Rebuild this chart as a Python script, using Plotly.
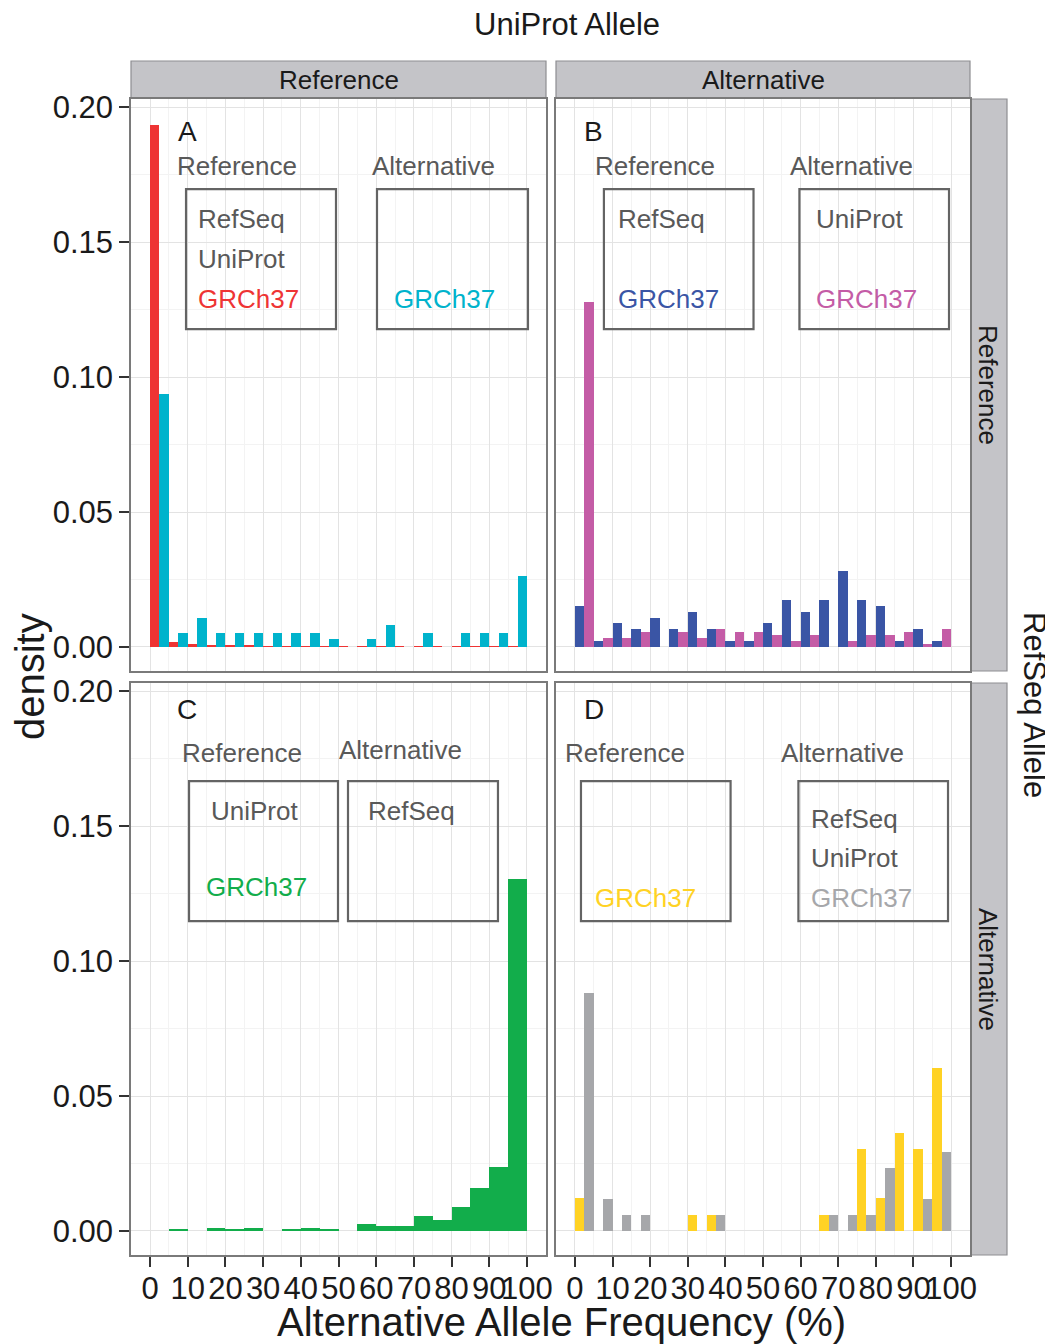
import plotly.graph_objects as go

W, H = 1053, 1344
OFF = 8  # browser default body margin
FW, FH = W - OFF, H - OFF
FONT = "Liberation Sans, Arial, Helvetica, sans-serif"

# ---------------- data ----------------
bin_left = list(range(0, 100, 5))  # histogram bins of width 5 (%)

# Panel A (UniProt Reference / RefSeq Reference)
a_red = [0.1933, 0.0019, 0.0011, 0.0007, 0.0007, 0.0007, 0.0003, 0.0003, 0.0003, 0.0003,
         0.0003, 0.0003, 0.0003, 0.0003, 0.0003, 0.0003, 0.0003, 0.0003, 0.0003, 0.0003]
a_teal = [0.0937, 0.0052, 0.0107, 0.0052, 0.0052, 0.0052, 0.0052, 0.0052, 0.0052, 0.0030,
          0.0, 0.0030, 0.0082, 0.0, 0.0052, 0.0, 0.0052, 0.0052, 0.0052, 0.0263]
# Panel B (UniProt Alternative / RefSeq Reference)
b_blue = [0.0151, 0.0021, 0.0088, 0.0065, 0.0106, 0.0065, 0.0128, 0.0065, 0.0021, 0.0021,
          0.0088, 0.0173, 0.0128, 0.0173, 0.0280, 0.0173, 0.0151, 0.0021, 0.0065, 0.0021]
b_magenta = [0.1278, 0.0032, 0.0032, 0.0054, 0.0, 0.0054, 0.0032, 0.0065, 0.0054, 0.0054,
             0.0043, 0.0021, 0.0043, 0.0, 0.0021, 0.0043, 0.0043, 0.0054, 0.0010, 0.0065]
# Panel C (UniProt Reference / RefSeq Alternative)
c_green = [0.0, 0.0004, 0.0, 0.0011, 0.0004, 0.0011, 0.0, 0.0004, 0.0011, 0.0004,
           0.0, 0.0026, 0.0019, 0.0019, 0.0056, 0.0041, 0.0089, 0.0159, 0.0238, 0.1304]
# Panel D (UniProt Alternative / RefSeq Alternative)
d_yellow = [0.0122, 0.0, 0.0, 0.0, 0.0, 0.0, 0.0059, 0.0059, 0.0, 0.0,
            0.0, 0.0, 0.0, 0.0059, 0.0, 0.0304, 0.0122, 0.0363, 0.0304, 0.0604]
d_grey = [0.0881, 0.0119, 0.0059, 0.0059, 0.0, 0.0, 0.0, 0.0059, 0.0, 0.0,
          0.0, 0.0, 0.0, 0.0059, 0.0059, 0.0059, 0.0233, 0.0, 0.0119, 0.0293]

x_ticks = [0, 10, 20, 30, 40, 50, 60, 70, 80, 90, 100]
y_ticks = [0.00, 0.05, 0.10, 0.15, 0.20]
y_tick_labels = ["0.00", "0.05", "0.10", "0.15", "0.20"]
col_labels = ["Reference", "Alternative"]
row_labels = ["Reference", "Alternative"]

RED, TEAL, BLUE, MAG = "#EE3434", "#00B3CC", "#3A55A5", "#C45CA6"
GREEN, YELLOW, GREY = "#12AD4B", "#FFD224", "#A6A7AA"
TXT_GREY = "#595959"

# ---------------- layout geometry (pixels in the screenshot) ----------------
COLS = [(131, 546), (556, 970)]
ROWS = [(99, 671), (683, 1255)]
XR = [-5.05, 105.05]
YR = [-0.0089, 0.2030]


def px(x):
    return (x - OFF) / FW


def py(y):
    return 1 - (y - OFF) / FH


fig = go.Figure()

panels = {
    (0, 0): [(a_red, RED, 0), (a_teal, TEAL, 1)],
    (0, 1): [(b_blue, BLUE, 0), (b_magenta, MAG, 1)],
    (1, 0): [(c_green, GREEN, None)],
    (1, 1): [(d_yellow, YELLOW, 0), (d_grey, GREY, 1)],
}

axis_names = {}
idx = 0
for r in range(2):
    for c in range(2):
        idx += 1
        axis_names[(r, c)] = idx

for (r, c), series in panels.items():
    i = axis_names[(r, c)]
    xa = "x" if i == 1 else f"x{i}"
    ya = "y" if i == 1 else f"y{i}"
    for vals, col, slot in series:
        if slot is None:
            xs = [b + 2.5 for b in bin_left]
            wd = 5.0
        else:
            xs = [b + 1.25 + 2.5 * slot for b in bin_left]
            wd = 2.5
        fig.add_trace(go.Bar(x=xs, y=vals, width=wd, marker=dict(color=col, line=dict(width=0)),
                             xaxis=xa, yaxis=ya, showlegend=False))

lay = {}
for (r, c), i in axis_names.items():
    sx = "" if i == 1 else str(i)
    x0, x1 = COLS[c]
    y0, y1 = ROWS[r]
    common = dict(showline=True, mirror=True, linecolor="#7a7a7a", linewidth=1.5,
                  showgrid=True, gridcolor="#E3E3E3", gridwidth=1.3, zeroline=False,
                  ticks="outside", ticklen=10, tickwidth=1.5, tickcolor="#333333",
                  automargin=False,
                  tickfont=dict(family=FONT, size=31, color="#1a1a1a"))
    xa = dict(common, domain=[px(x0), px(x1)], range=XR, tickmode="array", tickvals=x_ticks,
              ticktext=[str(t) for t in x_ticks], anchor="y" + sx, tickangle=0,
              showticklabels=(r == 1), ticklabelstandoff=-5)
    xa["minor"] = dict(showgrid=True, gridcolor="#F3F3F3", gridwidth=1.3,
                       tickvals=[5, 15, 25, 35, 45, 55, 65, 75, 85, 95])
    if r == 0:
        xa["ticks"] = ""
    ya = dict(common, domain=[py(y1), py(y0)], range=YR, tickmode="array", tickvals=y_ticks,
              ticktext=y_tick_labels, anchor="x" + sx, showticklabels=(c == 0))
    ya["minor"] = dict(showgrid=True, gridcolor="#F3F3F3", gridwidth=1.3,
                       tickvals=[0.025, 0.075, 0.125, 0.175])
    if c == 1:
        ya["ticks"] = ""
    lay["xaxis" + sx] = xa
    lay["yaxis" + sx] = ya

fig.update_layout(**lay)

shapes = []
annots = []


def pann(x, y, s, size, angle=0):
    annots.append(dict(xref="paper", yref="paper", x=px(x), y=py(y), text=s, textangle=angle,
                       xanchor="center", yanchor="middle", showarrow=False,
                       font=dict(family=FONT, size=size, color="#1a1a1a")))


# strips
STRIP_FILL = "#C4C4C8"
STRIP_LINE = "#8E8E92"
for c, (x0, x1) in enumerate(COLS):
    shapes.append(dict(type="rect", xref="paper", yref="paper", x0=px(x0), x1=px(x1),
                       y0=py(98), y1=py(61), fillcolor=STRIP_FILL, line=dict(color=STRIP_LINE, width=1.2), layer="below"))
    pann((x0 + x1) / 2, 80, col_labels[c], 26)
for r, (y0, y1) in enumerate(ROWS):
    shapes.append(dict(type="rect", xref="paper", yref="paper", x0=px(971), x1=px(1007),
                       y0=py(y1), y1=py(y0), fillcolor=STRIP_FILL, line=dict(color=STRIP_LINE, width=1.2), layer="below"))
    pann(988, (y0 + y1) / 2, row_labels[r], 26, 90)

# titles
pann(567, 25, "UniProt Allele", 31)
pann(1035, 705, "RefSeq Allele", 31, 90)
pann(30, 677, "density", 40, -90)
pann(561, 1322, "Alternative Allele Frequency (%)", 40)


def ax_refs(r, c):
    i = axis_names[(r, c)]
    return ("x" if i == 1 else f"x{i}"), ("y" if i == 1 else f"y{i}")


def xv(c, p):
    zero = [150, 574][c]
    return (p - zero) / 3.77


def yv(r, p):
    zero = [647, 1231][r]
    return (zero - p) / 2700


def txt(r, c, xp, yp, s, color=TXT_GREY, size=26, anchor="left"):
    xr, yr = ax_refs(r, c)
    annots.append(dict(xref=xr, yref=yr, x=xv(c, xp), y=yv(r, yp), text=s, showarrow=False,
                       xanchor=anchor, yanchor="middle", font=dict(family=FONT, size=size, color=color)))


def box(r, c, x0, x1, y0, y1):
    xr, yr = ax_refs(r, c)
    shapes.append(dict(type="rect", xref=xr, yref=yr, x0=xv(c, x0), x1=xv(c, x1), y0=yv(r, y1), y1=yv(r, y0),
                       line=dict(color="#646464", width=2.2), fillcolor="rgba(0,0,0,0)"))


# Panel A
txt(0, 0, 187, 131, "A", color="#1a1a1a", size=28, anchor="center")
txt(0, 0, 237, 166, "Reference", anchor="center")
txt(0, 0, 434, 166, "Alternative", anchor="center")
box(0, 0, 186, 336, 189, 329)
box(0, 0, 377, 528, 189, 329)
txt(0, 0, 196, 219, "RefSeq")
txt(0, 0, 196, 259, "UniProt")
txt(0, 0, 196, 299, "GRCh37", color=RED)
txt(0, 0, 392, 299, "GRCh37", color=TEAL)

# Panel B
txt(0, 1, 593, 131, "B", color="#1a1a1a", size=28, anchor="center")
txt(0, 1, 654, 166, "Reference", anchor="center")
txt(0, 1, 851, 166, "Alternative", anchor="center")
box(0, 1, 603, 753, 189, 329)
box(0, 1, 799, 949, 189, 329)
txt(0, 1, 615, 219, "RefSeq")
txt(0, 1, 615, 299, "GRCh37", color=BLUE)
txt(0, 1, 814, 219, "UniProt")
txt(0, 1, 814, 299, "GRCh37", color=MAG)

# Panel C
txt(1, 0, 187, 709, "C", color="#1a1a1a", size=28, anchor="center")
txt(1, 0, 242, 753, "Reference", anchor="center")
txt(1, 0, 401, 750, "Alternative", anchor="center")
box(1, 0, 189, 338, 781, 921)
box(1, 0, 348, 498, 781, 921)
txt(1, 0, 209, 811, "UniProt")
txt(1, 0, 204, 887, "GRCh37", color=GREEN)
txt(1, 0, 366, 811, "RefSeq")

# Panel D
txt(1, 1, 593, 709, "D", color="#1a1a1a", size=28, anchor="center")
txt(1, 1, 624, 753, "Reference", anchor="center")
txt(1, 1, 842, 753, "Alternative", anchor="center")
box(1, 1, 580, 730, 781, 921)
box(1, 1, 798, 948, 781, 921)
txt(1, 1, 592, 898, "GRCh37", color=YELLOW)
txt(1, 1, 809, 819, "RefSeq")
txt(1, 1, 809, 858, "UniProt")
txt(1, 1, 809, 898, "GRCh37", color=GREY)

fig.update_layout(width=FW, height=FH, margin=dict(l=0, r=0, t=0, b=0), plot_bgcolor="white",
                  paper_bgcolor="white", barmode="overlay", bargap=0, shapes=shapes, annotations=annots,
                  font=dict(family=FONT))

fig.write_html("out.html")
